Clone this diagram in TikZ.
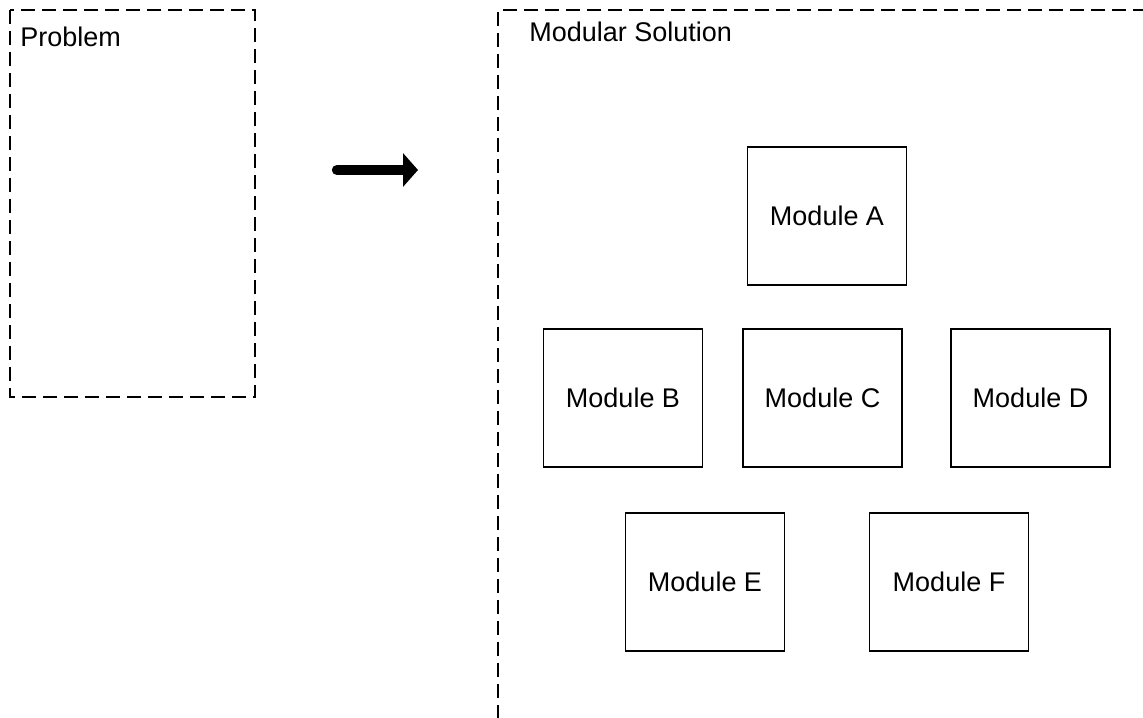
\documentclass[tikz,border=0pt]{standalone}
\usepackage{fontspec}
\setmainfont{Liberation Sans}
\usetikzlibrary{arrows.meta}
\begin{document}
\begin{tikzpicture}[x=0.5pt,y=-0.5pt,
  every node/.style={font=\fontsize{13.5pt}{16pt}\selectfont},
  frame/.style={draw=black, line width=1pt, dash pattern=on 7pt off 3.5pt},
  module/.style={draw=black, line width=0.9pt, rectangle, inner sep=0pt,
    minimum width=79.5pt, minimum height=69pt},
  label/.style={anchor=base west, inner sep=0pt},
  bigarrow/.style={line width=5.2pt, line cap=round,
    -{Triangle[length=7.5pt,width=16.5pt]}}]
\useasboundingbox (0,0) rectangle (1143,717);
\clip (0,0) rectangle (1143,717);
\fill[white] (0,0) rectangle (1143,717);
% frames
\draw[frame] (10,10) rectangle (255,397);
\draw[frame] (498,740) -- (498,10) -- (1170,10);
\node[label] (problem) at (20,47) {Problem};
\node[label] (modsol) at (529,42) {Modular Solution};
% arrow
\coordinate (as) at (337,170);
\coordinate (ae) at (418,170);
\draw[bigarrow] (as) -- (ae);
% modules
\node[module] (A) at (827,216) {Module A};
\node[module] (B) at (623,398) {Module B};
\node[module] (C) at (822.5,398) {Module C};
\node[module] (D) at (1030.5,398) {Module D};
\node[module] (E) at (705,582) {Module E};
\node[module] (F) at (949,582) {Module F};
\end{tikzpicture}
\end{document}
